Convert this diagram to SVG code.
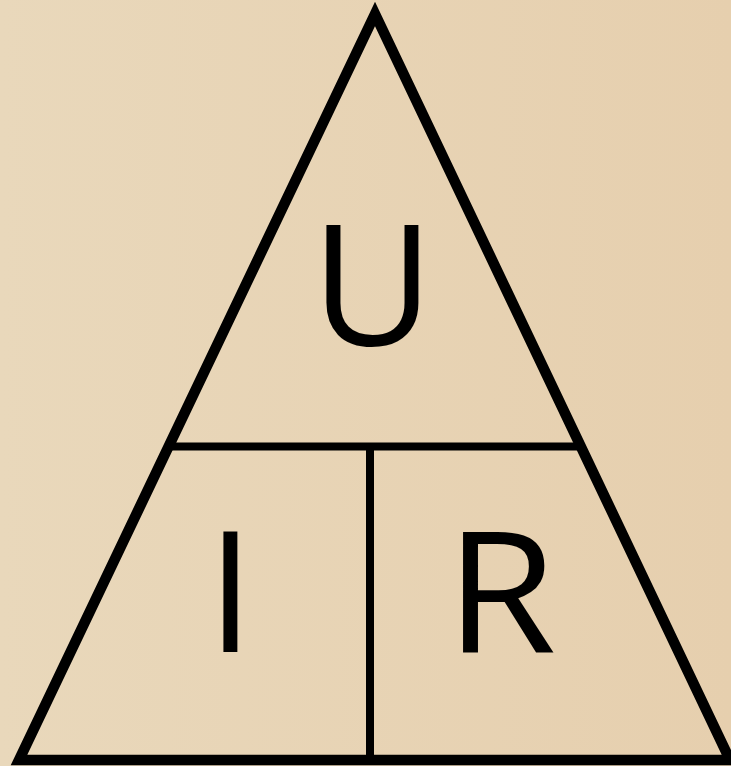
<svg xmlns="http://www.w3.org/2000/svg" width="731" height="766" viewBox="0 0 731 766">
<defs>
<linearGradient id="bg" x1="0" y1="0" x2="1" y2="0">
<stop offset="0" stop-color="#e9d8bb"/>
<stop offset="1" stop-color="#e6cfae"/>
</linearGradient>
<style>
.edge{stroke:#000;fill:none;stroke-linejoin:miter;stroke-miterlimit:10}
.lbl{font-family:"Open Sans","Noto Sans","Liberation Sans",sans-serif;font-size:168px;fill:#000;text-anchor:middle}
</style>
</defs>
<rect width="731" height="766" fill="url(#bg)"/>
<g id="connectors">
<path class="edge" stroke-width="10.5" d="M375,14 L19,760 L730,760 Z"/>
<line class="edge" stroke-width="8" x1="170" y1="446.5" x2="582" y2="446.5"/>
<line class="edge" stroke-width="8" x1="370" y1="446.5" x2="370" y2="760"/>
</g>
<g id="node-U"><text class="lbl" x="372.5" y="345">U</text></g>
<g id="node-I"><text class="lbl" x="230.5" y="652">I</text></g>
<g id="node-R"><text class="lbl" x="501" y="652" transform="translate(501 0) scale(1.07 1) translate(-501 0)">R</text></g>
</svg>
